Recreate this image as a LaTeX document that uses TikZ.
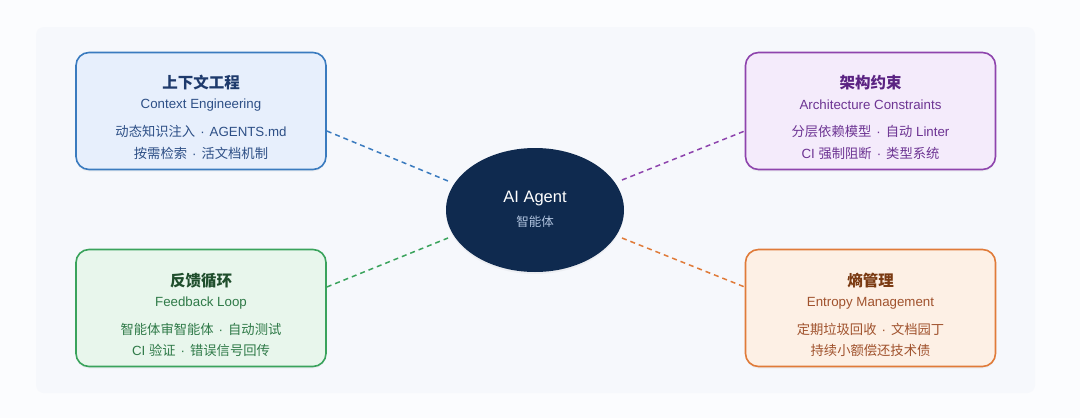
\documentclass[tikz,border=0pt]{standalone}
\usepackage{fontspec}
\setmainfont{Liberation Sans}
\newfontfamily\cjk{Noto Sans CJK SC}
\usetikzlibrary{shapes.geometric,shadows,calc}
\definecolor{outerbg}{HTML}{FBFCFE}
\definecolor{panelbg}{HTML}{F6F8FC}
\definecolor{bstroke}{HTML}{3A7BBF}
\definecolor{bfill}{HTML}{E7EFFC}
\definecolor{btitle}{HTML}{1E3A6C}
\definecolor{btext}{HTML}{2D4F86}
\definecolor{pstroke}{HTML}{8E44AD}
\definecolor{pfill}{HTML}{F4EBFB}
\definecolor{ptitle}{HTML}{5A2282}
\definecolor{ptext}{HTML}{6D3493}
\definecolor{gstroke}{HTML}{3AA35C}
\definecolor{gfill}{HTML}{E8F6EC}
\definecolor{gtitle}{HTML}{1F4E2C}
\definecolor{gtext}{HTML}{2F7A48}
\definecolor{ostroke}{HTML}{E07B39}
\definecolor{ofill}{HTML}{FDF0E5}
\definecolor{otitle}{HTML}{7A3A12}
\definecolor{otext}{HTML}{A0522D}
\definecolor{agentfill}{HTML}{0F2A4F}
\definecolor{agentsub}{HTML}{AFC2DD}
\newcommand{\sepdot}{\hspace{5pt}\textperiodcentered\hspace{5pt}}
\tikzset{
  card/.style={draw, rounded corners=13pt, line width=1.6pt, minimum width=250pt,
    minimum height=117pt, inner sep=0pt,
    drop shadow={opacity=0.07, shadow xshift=0pt, shadow yshift=-2pt}},
  ttl/.style={inner sep=0pt, font=\fontsize{15.5}{18}\selectfont\cjk\bfseries},
  sub/.style={inner sep=0pt, font=\fontsize{13.3}{16}\selectfont},
  ln/.style={inner sep=0pt, font=\fontsize{13.3}{16}\selectfont},
  link/.style={line width=1.5pt, dash pattern=on 5pt off 4pt},
}
\begin{document}
\begin{tikzpicture}[x=1pt,y=-1pt]
\useasboundingbox (0,0) rectangle (1080,418);
\fill[outerbg] (0,0) rectangle (1080,418);
\fill[panelbg, rounded corners=8pt] (36,27) rectangle (1035,393);

% center
\node[ellipse, fill=agentfill, minimum width=178pt, minimum height=124pt, inner sep=0pt,
  drop shadow={opacity=0.08, shadow xshift=0pt, shadow yshift=-2pt}] (agent) at (535,210) {};
\node[inner sep=0pt, text=white, font=\fontsize{16.5}{20}\selectfont] (agentT) at ($(agent)+(0,-11)$) {AI Agent};
\node[inner sep=0pt, text=agentsub, font=\fontsize{12.5}{15}\selectfont\cjk] (agentS) at ($(agent)+(0,12)$) {智能体};

% top-left
\node[card, draw=bstroke, fill=bfill] (ctx) at (201,111) {};
\node[ttl, text=btitle] (ctxT) at ($(ctx)+(0,-28)$) {上下文工程};
\node[sub, text=btext] (ctxS) at ($(ctx)+(0,-6)$) {Context Engineering};
\node[ln, text=btext] (ctxA) at ($(ctx)+(0,20)$) {{\cjk 动态知识注入}\sepdot AGENTS.md};
\node[ln, text=btext] (ctxB) at ($(ctx)+(0,42)$) {{\cjk 按需检索}\sepdot{\cjk 活文档机制}};

% top-right
\node[card, draw=pstroke, fill=pfill] (arc) at (870.5,111) {};
\node[ttl, text=ptitle] (arcT) at ($(arc)+(0,-28)$) {架构约束};
\node[sub, text=ptext] (arcS) at ($(arc)+(0,-6)$) {Architecture Constraints};
\node[ln, text=ptext] (arcA) at ($(arc)+(0,20)$) {{\cjk 分层依赖模型}\sepdot{\cjk 自动} Linter};
\node[ln, text=ptext] (arcB) at ($(arc)+(0,42)$) {CI {\cjk 强制阻断}\sepdot{\cjk 类型系统}};

% bottom-left
\node[card, draw=gstroke, fill=gfill] (fb) at (201,308) {};
\node[ttl, text=gtitle] (fbT) at ($(fb)+(0,-27)$) {反馈循环};
\node[sub, text=gtext] (fbS) at ($(fb)+(0,-5)$) {Feedback Loop};
\node[ln, text=gtext] (fbA) at ($(fb)+(0,21)$) {{\cjk 智能体审智能体}\sepdot{\cjk 自动测试}};
\node[ln, text=gtext] (fbB) at ($(fb)+(0,42)$) {CI {\cjk 验证}\sepdot{\cjk 错误信号回传}};

% bottom-right
\node[card, draw=ostroke, fill=ofill] (ent) at (870.5,308) {};
\node[ttl, text=otitle] (entT) at ($(ent)+(0,-27)$) {熵管理};
\node[sub, text=otext] (entS) at ($(ent)+(0,-5)$) {Entropy Management};
\node[ln, text=otext] (entA) at ($(ent)+(0,21)$) {{\cjk 定期垃圾回收}\sepdot{\cjk 文档园丁}};
\node[ln, text=otext] (entB) at ($(ent)+(0,42)$) {{\cjk 持续小额偿还技术债}};

% connector ends
\coordinate (e1) at ($(ctx.east)+(0,20)$);
\coordinate (a1) at ($(agent)+(-87,-29)$);
\coordinate (e2) at ($(arc.west)+(0,20)$);
\coordinate (a2) at ($(agent)+(87,-30)$);
\coordinate (e3) at ($(fb.east)+(0,-21)$);
\coordinate (a3) at ($(agent)+(-87,28)$);
\coordinate (e4) at ($(ent.west)+(0,-21)$);
\coordinate (a4) at ($(agent)+(87,28)$);

\draw[link, bstroke] (e1) -- (a1);
\draw[link, pstroke] (a2) -- (e2);
\draw[link, gstroke] (e3) -- (a3);
\draw[link, ostroke] (a4) -- (e4);
\end{tikzpicture}
\end{document}
